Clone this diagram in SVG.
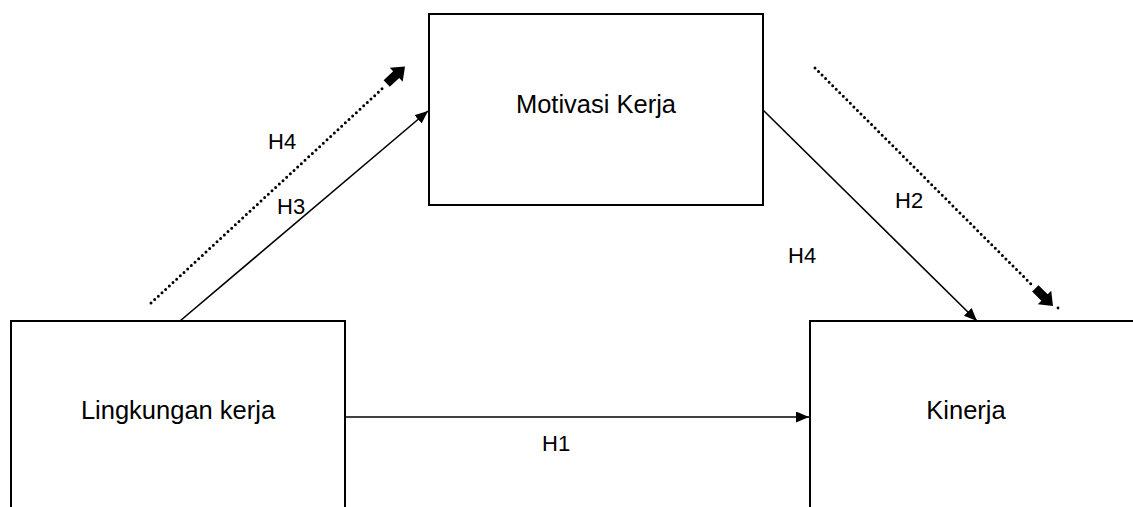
<svg xmlns="http://www.w3.org/2000/svg" width="1133" height="507" viewBox="0 0 1133 507">
<style>
.box{fill:#fff;stroke:#000;stroke-width:2}
.ln{fill:none;stroke:#000;stroke-width:1.6}
.dot{fill:none;stroke:#000;stroke-width:3;stroke-linecap:round;stroke-dasharray:0 5}
.t{font-family:"Liberation Sans",Arial,sans-serif;font-size:25.5px;fill:#000;text-anchor:middle}
.h{font-family:"Liberation Sans",Arial,sans-serif;font-size:22px;fill:#000}
</style>
<defs>
<marker id="ah" markerUnits="userSpaceOnUse" markerWidth="14" markerHeight="12" refX="13" refY="5.5" orient="auto">
<path d="M0,0 L13,5.5 L0,11 z" fill="#000"/>
</marker>
<polygon id="blk" points="-25,-4.5 -12,-4.5 -12,-9.5 0,0 -12,9.5 -12,4.5 -25,4.5" fill="#000"/>
</defs>
<g id="node-motivasi">
<rect class="box" x="429" y="14" width="334" height="191"/>
<text class="t" x="596" y="113">Motivasi Kerja</text>
</g>
<g id="node-lingkungan">
<rect class="box" x="11" y="321" width="334" height="200"/>
<text class="t" x="178" y="419">Lingkungan kerja</text>
</g>
<g id="node-kinerja">
<rect class="box" x="810" y="321" width="340" height="200"/>
<text class="t" x="966" y="419">Kinerja</text>
</g>
<g id="connectors">
<line class="ln" x1="345" y1="417" x2="809" y2="417" marker-end="url(#ah)"/>
<line class="ln" x1="180" y1="321" x2="428" y2="111" marker-end="url(#ah)"/>
<line class="ln" x1="763" y1="110" x2="977" y2="321" marker-end="url(#ah)"/>
<line class="dot" x1="151" y1="303" x2="384" y2="87"/>
<use href="#blk" transform="translate(405,66.5) rotate(-42.9)"/>
<line class="dot" x1="815" y1="68" x2="1033" y2="286"/>
<use href="#blk" transform="translate(1053,306) rotate(45)"/>
<circle cx="1058" cy="308" r="1.4" fill="#000"/>
</g>
<g id="labels">
<text class="h" x="268" y="149">H4</text>
<text class="h" x="277" y="214">H3</text>
<text class="h" x="895" y="208">H2</text>
<text class="h" x="788" y="263">H4</text>
<text class="h" x="542" y="451">H1</text>
</g>
</svg>
